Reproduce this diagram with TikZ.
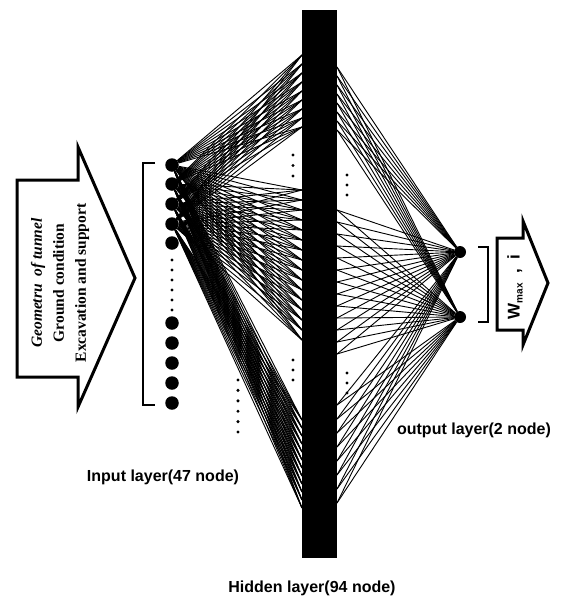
\documentclass[tikz,border=0pt]{standalone}
\usepackage{fontspec}
\setmainfont{Liberation Serif}
\setsansfont{Liberation Sans}
\begin{document}
\begin{tikzpicture}[x=1pt,y=-1pt,
  conn/.style={line width=0.9pt},
  inode/.style={circle,fill=black,inner sep=0pt,minimum size=13.5pt},
  onode/.style={circle,fill=black,inner sep=0pt,minimum size=12pt},
  sdot/.style={circle,fill=black,inner sep=0pt,minimum size=3.4pt},
  lbl/.style={font=\sffamily\bfseries\fontsize{16}{19}\selectfont},
  bigarrow/.style={draw=black,line width=3pt,line join=miter,fill=white},
  brk/.style={line width=1.5pt}]
\useasboundingbox (0,0) rectangle (565,600);

% hidden layer bar
\node[fill=black,minimum width=35pt,minimum height=548pt,inner sep=0pt] (hid) at (319.5,284) {};

% input nodes
\foreach \y [count=\k] in {165,184,204,224,243,323,343,363,383,403}
  \node[inode] (in\k) at (172,\y) {};
% output nodes
\node[onode] (on1) at (460,252) {};
\node[onode] (on2) at (460,317) {};

% connection points on the hidden bar
\foreach \y [count=\k] in {55,64,73,82,91,100,109,118,127,
  190,200,210,220,230,240,250,260,270,280,290,300,310,320,330,340,
  420,428,436,444,452,460,468,476,484,492,500,508}
  \coordinate (L\k) at (302,\y);
\foreach \y [count=\k] in {67,76,85,94,103,112,121,130,
  210,222,234,246,258,270,282,294,306,318,330,342,354,
  405,419,433,447,461,475,489,503}
  \coordinate (R\k) at (337,\y);

% connectors input -> hidden
\foreach \i in {1,...,4}
  \foreach \k in {1,...,37}
    \draw[conn] (in\i) -- (L\k);
% connectors hidden -> output
\foreach \o in {1,2}
  \foreach \k in {1,...,29}
    \draw[conn] (R\k) -- (on\o);

% dots
\foreach \y [count=\k] in {260,270,280,290,300,310}
  \node[sdot] (d1\k) at (172,\y) {};
\foreach \y [count=\k] in {155,165.5,176}
  \node[sdot] (d2\k) at (293,\y) {};
\foreach \y [count=\k] in {360,370,380}
  \node[sdot] (d3\k) at (293,\y) {};
\foreach \y [count=\k] in {175,185,195}
  \node[sdot] (d4\k) at (347,\y) {};
\foreach \y [count=\k] in {373,383,393}
  \node[sdot] (d5\k) at (347,\y) {};
\foreach \y [count=\k] in {380,390.4,400.8,411.2,421.6,432}
  \node[sdot] (d6\k) at (238,\y) {};

% brackets
\draw[brk] (155,163) -- (143,163) -- (143,405) -- (155,405);
\draw[brk] (478,247) -- (488,247) -- (488,322) -- (478,322);

% input arrow
\draw[bigarrow] (17,180) -- (78,180) -- (78,147) -- (135,278) -- (78,407) -- (78,377) -- (17,377) -- cycle;
\node[rotate=90,align=center,font=\bfseries\fontsize{15.5}{22}\selectfont] (intext) at (60,283)
  {{\itshape Geometru \ of tunnel}\\Ground condition\\Excavation and support};

% output arrow
\draw[bigarrow] (497,238) -- (523,238) -- (523,221) -- (548,283) -- (523,345) -- (523,330) -- (497,330) -- cycle;
\node[rotate=90,font=\sffamily\bfseries\fontsize{17}{18}\selectfont] (wtext) at (515,287)
  {W\raisebox{-3pt}{\fontsize{10}{10}\selectfont max}\ \ ,\ \ i};

% labels
\node[lbl] (inlbl) at (163,477) {Input layer(47 node)};
\node[lbl] (outlbl) at (474,430) {output layer(2 node)};
\node[lbl] (hidlbl) at (312,588) {Hidden layer(94 node)};
\end{tikzpicture}
\end{document}
